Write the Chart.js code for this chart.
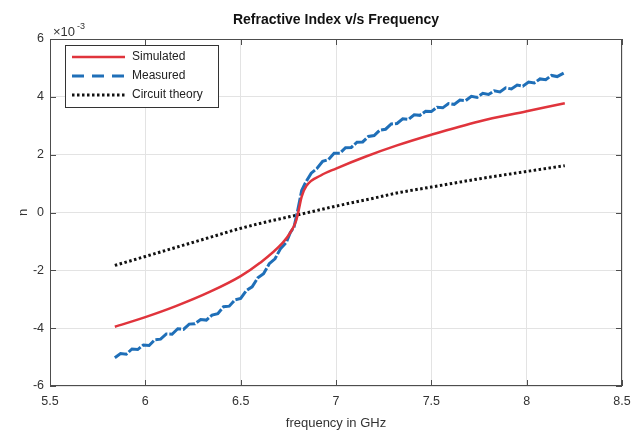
<!DOCTYPE html>
<html>
<head>
<meta charset="utf-8">
<script src="https://cdn.jsdelivr.net/npm/chart.js@4"></script>
<style>
  html, body { margin: 0; padding: 0; background: #fff; }
  #wrap { width: 633px; height: 435px; }
</style>
</head>
<body>
<div id="wrap"><canvas id="chart" width="633" height="435"></canvas></div>
<script>
// Values in units of 1e-3 (axis shows x10^-3)
const simFreq = [5.84, 6.0, 6.16, 6.34, 6.5, 6.6, 6.72, 6.76, 6.79, 6.805, 6.82, 6.845, 6.92, 7.0, 7.15, 7.32, 7.5, 7.75, 8.0, 8.2];
const simN    = [-3.95, -3.62, -3.24, -2.74, -2.2, -1.75, -1.05, -0.7, -0.3, 0.1, 0.55, 0.92, 1.28, 1.52, 1.92, 2.32, 2.69, 3.15, 3.5, 3.78];

const measFreq = [5.84, 5.87, 5.90, 5.93, 5.96, 5.99, 6.02, 6.05, 6.08, 6.11, 6.14, 6.17, 6.20, 6.23, 6.26, 6.29,
  6.32, 6.35, 6.38, 6.41, 6.44, 6.47, 6.50, 6.53, 6.56, 6.59, 6.62, 6.65, 6.68, 6.71, 6.74, 6.76, 6.78, 6.80,
  6.82, 6.84, 6.87, 6.90, 6.93, 6.96, 6.99, 7.02, 7.05, 7.08, 7.11, 7.14, 7.17, 7.20, 7.23, 7.26, 7.29, 7.32,
  7.35, 7.38, 7.41, 7.44, 7.47, 7.50, 7.53, 7.56, 7.59, 7.62, 7.65, 7.68, 7.71, 7.74, 7.77, 7.80, 7.83, 7.86,
  7.89, 7.92, 7.95, 7.98, 8.01, 8.04, 8.07, 8.10, 8.13, 8.16, 8.20];
const measN = [-5.02, -4.88, -4.90, -4.72, -4.74, -4.58, -4.60, -4.40, -4.38, -4.20, -4.21, -4.02, -4.04, -3.86, -3.85, -3.70,
  -3.72, -3.55, -3.50, -3.26, -3.24, -3.02, -2.97, -2.70, -2.57, -2.26, -2.12, -1.77, -1.60, -1.24, -1.03, -0.70, -0.50, 0.10,
  0.76, 1.03, 1.36, 1.52, 1.77, 1.83, 2.05, 2.05, 2.24, 2.25, 2.43, 2.44, 2.63, 2.66, 2.85, 2.88, 3.06, 3.08,
  3.24, 3.22, 3.38, 3.36, 3.50, 3.49, 3.64, 3.62, 3.77, 3.74, 3.89, 3.87, 4.02, 3.98, 4.12, 4.08, 4.21, 4.17,
  4.31, 4.27, 4.41, 4.37, 4.51, 4.48, 4.62, 4.59, 4.74, 4.70, 4.84];

const circFreq = [5.84, 6.0, 6.2, 6.4, 6.46, 6.6, 6.76, 6.9, 7.0, 7.2, 7.34, 7.5, 7.755, 8.0, 8.2];
const circN    = [-1.83, -1.52, -1.13, -0.74, -0.62, -0.38, -0.14, 0.07, 0.22, 0.50, 0.70, 0.88, 1.17, 1.42, 1.62];

const xTicks = [5.5, 6, 6.5, 7, 7.5, 8, 8.5];
const yTicks = [-6, -4, -2, 0, 2, 4, 6];

const seriesNames = ['Simulated', 'Measured', 'Circuit theory'];
const fontName = '"Liberation Sans", Arial, sans-serif';

function pairs(xs, ys) {
  return xs.map((x, i) => ({ x: x, y: ys[i] }));
}

// box, inward ticks, title, legend and exponent label, drawn like MATLAB
const matlabFrame = {
  id: 'matlabFrame',
  afterDraw(chart) {
    const ctx = chart.ctx;
    const a = chart.chartArea;
    const xs = chart.scales.x, ys = chart.scales.y;
    ctx.save();
    ctx.strokeStyle = '#4d4d4d';
    ctx.lineWidth = 1;
    ctx.strokeRect(a.left + 0.5, a.top + 0.5, a.right - a.left - 1, a.bottom - a.top - 1);
    ctx.beginPath();
    xTicks.forEach(v => {
      const px = Math.round(xs.getPixelForValue(v)) + 0.5;
      ctx.moveTo(px, a.bottom); ctx.lineTo(px, a.bottom - 6);
      ctx.moveTo(px, a.top); ctx.lineTo(px, a.top + 6);
    });
    yTicks.forEach(v => {
      const py = Math.round(ys.getPixelForValue(v)) + 0.5;
      ctx.moveTo(a.left, py); ctx.lineTo(a.left + 6, py);
      ctx.moveTo(a.right, py); ctx.lineTo(a.right - 6, py);
    });
    ctx.stroke();

    // title
    ctx.fillStyle = '#111';
    ctx.font = 'bold 14px ' + fontName;
    ctx.textAlign = 'center';
    ctx.textBaseline = 'middle';
    ctx.fillText('Refractive Index v/s Frequency', (a.left + a.right) / 2, 20);

    // exponent
    ctx.fillStyle = '#333';
    ctx.font = '13px ' + fontName;
    ctx.textAlign = 'left';
    ctx.textBaseline = 'alphabetic';
    ctx.fillText('\u00d710', 53, 36);
    ctx.font = '9px ' + fontName;
    ctx.fillText('-3', 77, 29);

    // legend
    const lx = 65, ly = 45, lw = 153, lh = 62;
    ctx.fillStyle = '#fff';
    ctx.fillRect(lx, ly, lw, lh);
    ctx.strokeStyle = '#333';
    ctx.lineWidth = 1;
    ctx.strokeRect(lx + 0.5, ly + 0.5, lw, lh);
    const ds = chart.data.datasets;
    ctx.font = '12px ' + fontName;
    ctx.textBaseline = 'middle';
    seriesNames.forEach((name, i) => {
      const y = ly + 12 + i * 19;
      const d = ds[i];
      ctx.beginPath();
      ctx.strokeStyle = d.borderColor;
      ctx.lineWidth = d.borderWidth;
      ctx.setLineDash(i === 1 ? [12, 8] : (i === 2 ? [2.5, 2.5] : []));
      ctx.moveTo(72, y); ctx.lineTo(125, y);
      ctx.stroke();
      ctx.setLineDash([]);
      ctx.fillStyle = '#222';
      ctx.fillText(name, 132, y);
    });
    ctx.restore();
  }
};

const ctx = document.getElementById('chart').getContext('2d');
new Chart(ctx, {
  type: 'line',
  data: {
    datasets: [
      {
        label: seriesNames[0],
        data: pairs(simFreq, simN),
        borderColor: '#e0343c',
        borderWidth: 2.5,
        pointRadius: 0,
        cubicInterpolationMode: 'monotone',
        fill: false
      },
      {
        label: seriesNames[1],
        data: pairs(measFreq, measN),
        borderColor: '#1f6fb8',
        borderWidth: 3,
        borderDash: [14, 2],
        pointRadius: 0,
        tension: 0,
        fill: false
      },
      {
        label: seriesNames[2],
        data: pairs(circFreq, circN),
        borderColor: '#111',
        borderWidth: 3,
        borderDash: [2.5, 2.5],
        pointRadius: 0,
        cubicInterpolationMode: 'monotone',
        fill: false
      }
    ]
  },
  options: {
    responsive: false,
    animation: false,
    layout: { padding: { left: 16, right: 11, top: 39, bottom: 0 } },
    plugins: {
      legend: { display: false },
      title: { display: false },
      tooltip: { enabled: false }
    },
    scales: {
      x: {
        type: 'linear',
        min: 5.5,
        max: 8.5,
        afterBuildTicks: s => { s.ticks = xTicks.map(v => ({ value: v })); },
        afterFit: s => { s.height = 49; s.paddingLeft = 0; s.paddingRight = 0; },
        grid: { color: '#e3e3e3', drawTicks: false },
        border: { display: false },
        ticks: { color: '#333', font: { family: fontName, size: 12.5 }, padding: 8, callback: v => String(v) },
        title: { display: true, text: 'frequency in GHz', color: '#333', font: { family: fontName, size: 13 }, padding: { top: 5 } }
      },
      y: {
        type: 'linear',
        min: -6,
        max: 6,
        afterBuildTicks: s => { s.ticks = yTicks.map(v => ({ value: v })); },
        afterFit: s => { s.width = 34; s.paddingTop = 0; s.paddingBottom = 0; },
        grid: { color: '#e3e3e3', drawTicks: false },
        border: { display: false },
        ticks: { color: '#333', font: { family: fontName, size: 12.5 }, padding: 6, callback: v => String(v) },
        title: { display: true, text: 'n', color: '#333', font: { family: fontName, size: 13 }, padding: 0 }
      }
    }
  },
  plugins: [matlabFrame]
});
</script>
</body>
</html>
